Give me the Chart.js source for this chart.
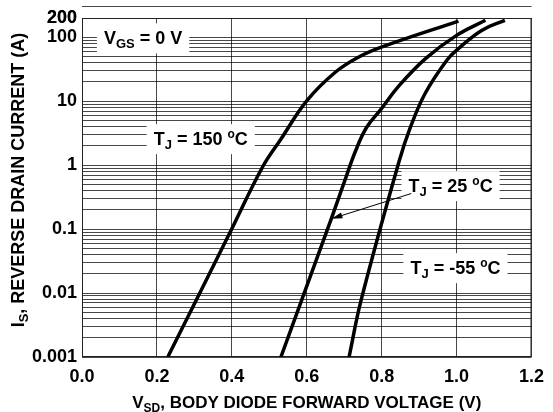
<!DOCTYPE html>
<html>
<head>
<meta charset="utf-8">
<script src="https://cdn.jsdelivr.net/npm/chart.js@4/dist/chart.umd.min.js"></script>
<style>
html, body { margin: 0; padding: 0; background: #fff; }
#wrap { width: 553px; height: 412px; }
</style>
</head>
<body>
<div id="wrap"><canvas id="diodeChart"></canvas></div>
<script>
// body diode forward voltage (V) vs reverse drain current (A)
const vsd150 = [0.229, 0.398, 0.482, 0.529, 0.601, 0.677, 0.739, 0.801, 1.005];
const is150  = [0.001, 0.0957, 0.935, 2.45, 10.3, 28.6, 49.1, 70.5, 179];

const vsd25 = [0.531, 0.664, 0.699, 0.731, 0.760, 0.798, 0.845, 0.917, 1.000, 1.077];
const is25  = [0.001, 0.137, 0.52, 1.71, 3.91, 7.47, 17.1, 46.4, 107, 184];

const vsdM55 = [0.713, 0.745, 0.845, 0.877, 0.916, 0.974, 1.005, 1.067, 1.129];
const isM55  = [0.001, 0.0077, 1.07, 3.95, 13.2, 43.7, 66.4, 128, 184];

const xTickLabels = ['0.0', '0.2', '0.4', '0.6', '0.8', '1.0', '1.2'];
const yDecades = [0.001, 0.01, 0.1, 1, 10, 100];
const yMultipliers = [1, 2, 3, 4, 5, 6, 7, 8, 9];
const yTop = 200;
const yLabelled = [0.001, 0.01, 0.1, 1, 10, 100, 200];
const yTickLabels = ['0.001', '0.01', '0.1', '1', '10', '100', '200'];

const FONT = "'Liberation Sans', Arial, sans-serif";

const toPoints = (xs, ys) => xs.map((x, i) => ({ x: x, y: ys[i] }));

const yGrid = [];
yDecades.forEach(d => yMultipliers.forEach(m => yGrid.push(+(d * m).toPrecision(3))));
yGrid.push(yTop);

// text boxes placed in data units
const notes = [
    { x: 0.163, y: 96,    parts: [['V', 18, 0], ['GS', 13, 4], [' = 0 V', 18, 0]] },
    { x: 0.317, y: 2.55,  parts: [['T', 18, 0], ['J', 13, 4], [' = 150 ', 18, 0], ['o', 12, -7], ['C', 18, 0]] },
    { x: 0.984, y: 0.47,  parts: [['T', 18, 0], ['J', 13, 4], [' = 25 ', 18, 0], ['o', 12, -7], ['C', 18, 0]] },
    { x: 0.997, y: 0.0245, parts: [['T', 18, 0], ['J', 13, 4], [' = -55 ', 18, 0], ['o', 12, -7], ['C', 18, 0]] }
];
const arrow = { x1: 0.879, y1: 0.36, x2: 0.666, y2: 0.145 };

function richWidth(ctx, parts) {
    let w = 0;
    parts.forEach(p => {
        ctx.font = `bold ${p[1]}px ${FONT}`;
        w += ctx.measureText(p[0]).width;
    });
    return w;
}

function drawRich(ctx, parts, cx, baseY) {
    let x = cx - richWidth(ctx, parts) / 2;
    ctx.textAlign = 'left';
    ctx.textBaseline = 'alphabetic';
    parts.forEach(p => {
        ctx.font = `bold ${p[1]}px ${FONT}`;
        ctx.fillText(p[0], x, baseY + p[2]);
        x += ctx.measureText(p[0]).width;
    });
}

const notesPlugin = {
    id: 'notes',
    beforeDatasetsDraw(chart) {
        const { ctx, chartArea, scales } = chart;
        ctx.save();
        // frame
        ctx.strokeStyle = '#222';
        ctx.lineWidth = 1;
        ctx.strokeRect(chartArea.left + 0.5, chartArea.top + 0.5,
            chartArea.right - chartArea.left - 1, chartArea.bottom - chartArea.top - 1);

        notes.forEach(n => {
            const cx = scales.x.getPixelForValue(n.x);
            const cy = scales.y.getPixelForValue(n.y);
            const w = richWidth(ctx, n.parts) + 14;
            ctx.fillStyle = '#fff';
            ctx.fillRect(cx - w / 2, cy - 15, w, 30);
            ctx.fillStyle = '#000';
            drawRich(ctx, n.parts, cx, cy + 6);
        });

        // arrow to the 25 C curve
        const x1 = scales.x.getPixelForValue(arrow.x1), y1 = scales.y.getPixelForValue(arrow.y1);
        const x2 = scales.x.getPixelForValue(arrow.x2), y2 = scales.y.getPixelForValue(arrow.y2);
        const a = Math.atan2(y2 - y1, x2 - x1);
        ctx.strokeStyle = '#000';
        ctx.lineWidth = 1;
        ctx.beginPath();
        ctx.moveTo(x1, y1);
        ctx.lineTo(x2 - 8 * Math.cos(a), y2 - 8 * Math.sin(a));
        ctx.stroke();
        ctx.fillStyle = '#000';
        ctx.beginPath();
        ctx.moveTo(x2, y2);
        ctx.lineTo(x2 - 11 * Math.cos(a) + 3 * Math.sin(a), y2 - 11 * Math.sin(a) - 3 * Math.cos(a));
        ctx.lineTo(x2 - 11 * Math.cos(a) - 3 * Math.sin(a), y2 - 11 * Math.sin(a) + 3 * Math.cos(a));
        ctx.closePath();
        ctx.fill();
        ctx.restore();
    },
    afterDraw(chart) {
        const { ctx, chartArea } = chart;
        ctx.save();
        ctx.fillStyle = '#000';
        // x axis title
        drawRich(ctx, [['V', 17, 0], ['SD', 12, 4], [', BODY DIODE FORWARD VOLTAGE (V)', 17, 0]],
            (chartArea.left + chartArea.right) / 2, 408);
        // y axis title
        ctx.translate(24, 180);
        ctx.rotate(-Math.PI / 2);
        drawRich(ctx, [['I', 18, 0], ['S', 13, 4], [', REVERSE DRAIN CURRENT (A)', 18, 0]], 0, 0);
        ctx.restore();
    }
};

const gridColor = 'rgba(0,0,0,0.72)';

new Chart(document.getElementById('diodeChart'), {
    type: 'line',
    data: {
        datasets: [
            { label: 'TJ = 150 C', data: toPoints(vsd150, is150) },
            { label: 'TJ = 25 C', data: toPoints(vsd25, is25) },
            { label: 'TJ = -55 C', data: toPoints(vsdM55, isM55) }
        ].map(ds => Object.assign(ds, {
            borderColor: '#000',
            borderWidth: 3.5,
            pointRadius: 0,
            tension: 0.4,
            fill: false
        }))
    },
    options: {
        responsive: true,
        maintainAspectRatio: false,
        animation: false,
        layout: { padding: { left: 0, right: 20, top: 18, bottom: 0 } },
        plugins: {
            legend: { display: false },
            tooltip: { enabled: false }
        },
        scales: {
            x: {
                type: 'linear',
                min: 0,
                max: 1.2,
                afterFit: s => { s.height = 55; },
                afterBuildTicks: s => { s.ticks = xTickLabels.map(t => ({ value: parseFloat(t) })); },
                grid: { color: gridColor, lineWidth: 1, drawTicks: false },
                border: { display: false },
                ticks: {
                    padding: 9,
                    color: '#000',
                    font: { family: FONT, size: 18, weight: 'bold' },
                    maxRotation: 0,
                    autoSkip: false,
                    callback: (v, i) => xTickLabels[i]
                }
            },
            y: {
                type: 'logarithmic',
                min: 0.001,
                max: yTop,
                afterFit: s => { s.width = 82; },
                afterBuildTicks: s => { s.ticks = yGrid.map(v => ({ value: v })); },
                grid: { color: gridColor, lineWidth: 1, drawTicks: false },
                border: { display: false },
                ticks: {
                    padding: 5,
                    color: '#000',
                    font: { family: FONT, size: 18, weight: 'bold' },
                    autoSkip: false,
                    callback: v => {
                        const k = yLabelled.findIndex(l => Math.abs(l - v) / l < 1e-6);
                        return k >= 0 ? yTickLabels[k] : '';
                    }
                }
            }
        }
    },
    plugins: [notesPlugin]
});
</script>
</body>
</html>
